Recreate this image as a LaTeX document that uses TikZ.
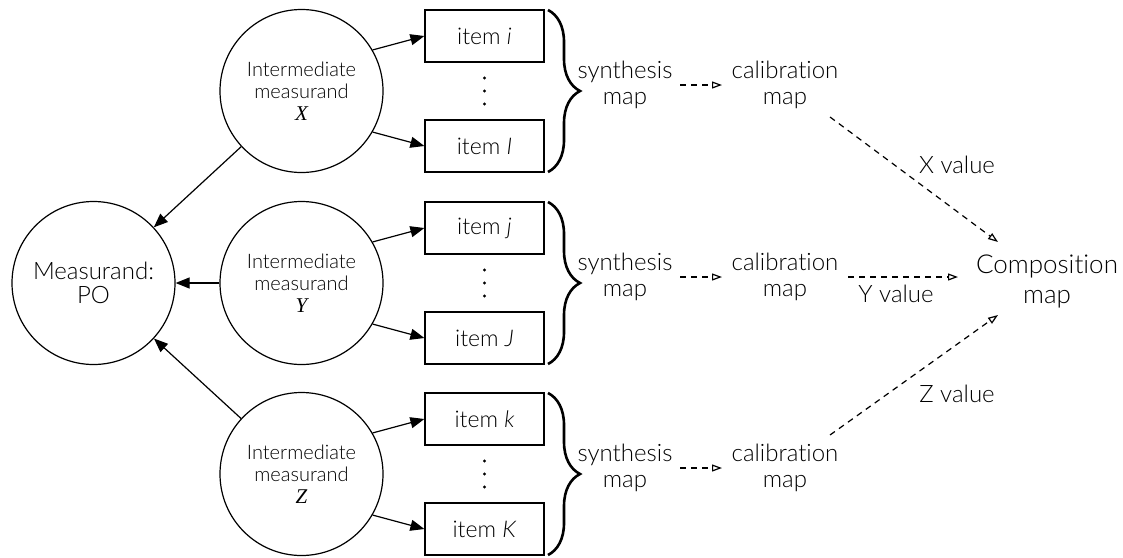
\documentclass[tikz,border=0pt]{standalone}
\usepackage{fontspec}
\setmainfont{Lato}[UprightFont=* Light,ItalicFont=* Light Italic,Ligatures=NoCommon]
\newfontfamily\tmsfont{Liberation Serif}
\usetikzlibrary{arrows.meta,decorations.pathreplacing}
\begin{document}
\begin{tikzpicture}[x=0.5pt,y=-0.5pt,
  every node/.style={inner sep=0pt},
  meas/.style={circle,draw,line width=0.6pt,minimum size=81.5pt,align=center,
    font=\fontsize{10}{11}\selectfont},
  itembox/.style={draw,line width=0.6pt,minimum width=59.5pt,minimum height=26pt,
    font=\fontsize{11.5}{13}\selectfont},
  lbl/.style={align=center,font=\fontsize{12}{13}\selectfont},
  solidarrow/.style={line width=0.6pt,-{Triangle[length=7pt,width=5.5pt]}},
  dasharrow/.style={line width=0.6pt,dash pattern=on 3pt off 2.5pt,
    -{Triangle[open,length=5pt,width=3.5pt]}},
  bracepath/.style={decorate,decoration={brace,amplitude=16pt},line width=1.3pt}
]
\useasboundingbox (0,0) rectangle (1123,557);

% overall measurand
\node[meas,font=\fontsize{12}{12}\selectfont] (M) at (93.5,283) {Measurand:\\PO};

% one row per intermediate measurand
\foreach \r/\yy/\a/\b in {X/91/i/I,Y/283/j/J,Z/474/k/K}{
  \node[meas] (\r) at (301.5,\yy)
    {Intermediate\\measurand\\{\tmsfont\itshape\fontsize{10.5}{11}\selectfont\r}};
  \node[itembox] (top\r) at (484.5,\yy-55) {item \textit{\a}};
  \node[itembox] (bot\r) at (484.5,\yy+55) {item \textit{\b}};
  \foreach \d in {-13,0,13} \fill (484.5,\yy+\d) circle (0.8pt);
  \draw[solidarrow] (\r.30) -- (top\r.west);
  \draw[solidarrow] (\r.-30) -- (bot\r.west);
  \draw[solidarrow] (\r) -- (M);
  \draw[bracepath] (548,\yy-81) -- (548,\yy+81);
  \node[lbl] (syn\r) at (625,\yy-6) {synthesis\\map};
  \node[lbl] (cal\r) at (785,\yy-6) {calibration\\map};
  \draw[dasharrow] ([shift={(55,0)}]syn\r.center) -- ([shift={(-63,0)}]cal\r.center);
}

% composition of the three values
\node[lbl,font=\fontsize{13}{15}\selectfont] (comp) at (1047,281) {Composition\\map};
\draw[dasharrow] ([shift={(45,32)}]calX.center) -- ([shift={(-49,-39)}]comp.center);
\draw[dasharrow] ([shift={(63,0)}]calY.center) -- ([shift={(-89,-4)}]comp.center);
\draw[dasharrow] ([shift={(45,-33)}]calZ.center) -- ([shift={(-49,34)}]comp.center);
\node[lbl] (xv) at (957,165) {X value};
\node[lbl] (yv) at (896,294) {Y value};
\node[lbl] (zv) at (957,394) {Z value};
\end{tikzpicture}
\end{document}
